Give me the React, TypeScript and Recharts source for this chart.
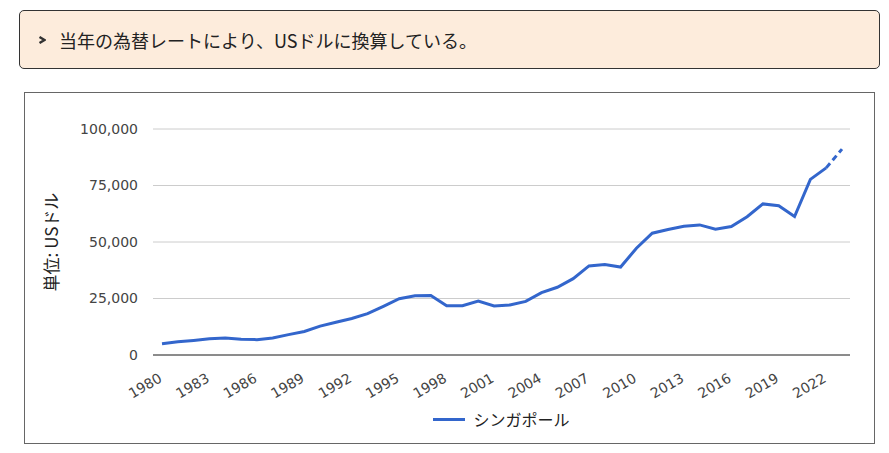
import React from "react";
import { LineChart, Line, XAxis, YAxis, CartesianGrid, Legend } from "recharts";

const years = [
  1980, 1981, 1982, 1983, 1984, 1985, 1986, 1987, 1988, 1989,
  1990, 1991, 1992, 1993, 1994, 1995, 1996, 1997, 1998, 1999,
  2000, 2001, 2002, 2003, 2004, 2005, 2006, 2007, 2008, 2009,
  2010, 2011, 2012, 2013, 2014, 2015, 2016, 2017, 2018, 2019,
  2020, 2021, 2022, 2023,
];

// USドル（当年の為替レート）
const gdpPerCapita = [
  5004, 5860, 6427, 7142, 7559, 7001, 6794, 7539, 9004, 10392,
  12766, 14502, 16136, 18290, 21553, 24915, 26233, 26376, 21829, 21796,
  23853, 21700, 22160, 23730, 27608, 29961, 33769, 39432, 40008, 38927,
  47237, 53891, 55546, 56967, 57563, 55647, 56828, 61162, 66859, 66070,
  61274, 77710, 82808, 91100,
];

// 最後の年は推計値（破線）
const estimateFrom = 2022;

const yTicks = [0, 25000, 50000, 75000, 100000];

const SERIES_NAME = "シンガポール";
const BLUE = "#3366cc";
const FONT = "'DejaVu Sans', 'Noto Sans CJK JP', sans-serif";
const JP = "'Noto Sans CJK JP', sans-serif";

const data = years.map((y, i) => ({
  year: y,
  actual: y <= estimateFrom ? gdpPerCapita[i] : null,
  estimate: y >= estimateFrom ? gdpPerCapita[i] : null,
}));

function YearTick({ x, y, payload }: any) {
  return (
    <text
      x={0}
      y={0}
      transform={`translate(${x + 1},${y + 18}) rotate(-30)`}
      textAnchor="end"
      fontSize={14}
      fontFamily={FONT}
      fill="#444"
    >
      {payload.value}
    </text>
  );
}

function LegendBox() {
  return (
    <div style={{ display: "flex", justifyContent: "center", alignItems: "center" }}>
      <span style={{ width: 32, height: 3, background: BLUE, display: "inline-block", marginRight: 8 }} />
      <span style={{ fontSize: 16, color: "#222", fontFamily: JP }}>{SERIES_NAME}</span>
    </div>
  );
}

export default function App() {
  return (
    <div style={{ position: "relative", width: 889, height: 453, background: "#fff" }}>
      <style>{"body{margin:0}"}</style>
      <div
        style={{
          position: "absolute",
          left: 19,
          top: 10,
          width: 859,
          height: 57,
          border: "1px solid #333",
          borderRadius: 5,
          background: "#fdecdc",
          display: "flex",
          alignItems: "center",
          fontFamily: JP,
          color: "#222",
        }}
      >
        <svg width={8} height={8} style={{ marginLeft: 18, marginRight: 13 }}>
          <path d="M1.5 1 L6.5 4 L1.5 7" fill="none" stroke="#333" strokeWidth={2.4} />
        </svg>
        <span style={{ fontSize: 18 }}>当年の為替レートにより、USドルに換算している。</span>
      </div>
      <div
        style={{
          position: "absolute",
          left: 24,
          top: 92,
          width: 849,
          height: 350,
          border: "1px solid #666",
        }}
      >
        <LineChart width={849} height={350} data={data} margin={{ top: 36, right: 24, bottom: 0, left: 0 }}>
          <CartesianGrid vertical={false} stroke="#cccccc" />
          <XAxis
            dataKey="year"
            interval={2}
            tick={<YearTick />}
            tickLine={false}
            axisLine={{ stroke: "#333" }}
            padding={{ left: 9, right: 8 }}
            height={64}
          />
          <YAxis
            width={128}
            domain={[0, 100000]}
            ticks={yTicks}
            tickFormatter={(v: number) => v.toLocaleString("en-US")}
            tick={{ fontSize: 14, fontFamily: FONT, fill: "#444" }}
            tickLine={false}
            axisLine={false}
            tickMargin={9}
            label={{
              value: "単位: USドル",
              angle: -90,
              position: "insideLeft",
              dx: 22,
              style: { fontSize: 17, fontFamily: JP, fill: "#222", textAnchor: "middle" },
            }}
          />
          <Line
            dataKey="actual"
            name={SERIES_NAME}
            stroke={BLUE}
            strokeWidth={3}
            dot={false}
            isAnimationActive={false}
            connectNulls={false}
          />
          <Line
            dataKey="estimate"
            stroke={BLUE}
            strokeWidth={3}
            strokeDasharray="6 4"
            dot={false}
            legendType="none"
            isAnimationActive={false}
          />
          <Legend
            content={<LegendBox />}
            wrapperStyle={{ left: 128, width: 697, bottom: 12 }}
          />
        </LineChart>
      </div>
    </div>
  );
}
